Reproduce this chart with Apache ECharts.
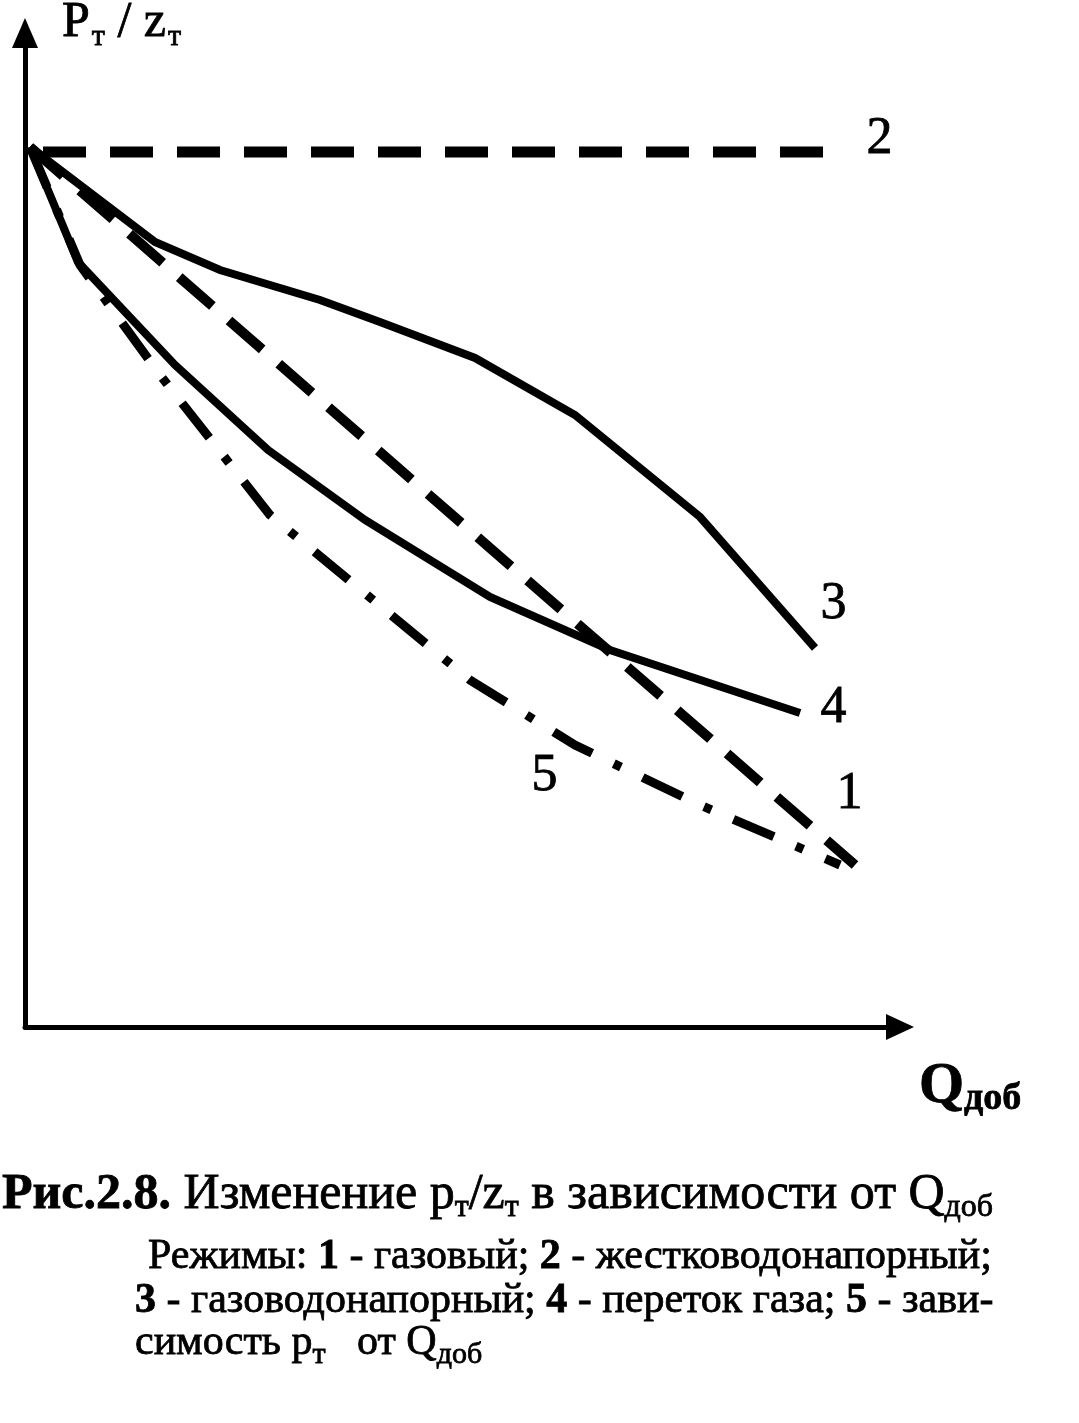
<!DOCTYPE html>
<html><head><meta charset="utf-8">
<script src="https://cdn.jsdelivr.net/npm/echarts@6/dist/echarts.min.js"></script>
<style>html,body{margin:0;padding:0;background:#fff}#c{width:1079px;height:1423px}</style>
</head><body><div id="c"></div>
<script>
// Curve values (arbitrary units)
const curve1 = [[5,880],[465,479],[675,297],[830,162]];            // газовый
const curve2 = [[18,875],[798,875]];                                // жестководонапорный
const curve3 = [[5,880],[130,785],[195,757],[295,727],[355,705],[450,669],[550,612],[675,510],[790,379]]; // газоводонапорный
const curve4 = [[5,880],[53,765],[150,662],[243,577],[340,507],[465,430],[585,377],[775,314]];           // переток газа
const curve5 = [[5,880],[55,762],[135,652],[245,512],[445,347],[550,282],[675,222],[815,162]];           // p_т от Q
const curveNames = ['1','2','3','4','5'];

const FN = 'Liberation Serif';
const chart = echarts.init(document.getElementById('c'), null, {renderer:'canvas'});

function ln(data, width, dash){
  return {type:'line', data:data, symbol:'none', smooth:false, silent:true,
    lineStyle:{color:'#000', width:width, type:dash, cap:'butt', join:'miter'}};
}
function R(o){ return Object.assign({fontFamily:FN, fill:'#000', stroke:'#000', lineWidth:0.8}, o); }
const numStyle = (t)=>({text:t, fontFamily:FN, fontSize:52, fill:'#000', stroke:'#000', lineWidth:0.8});

chart.setOption({
  animation:false,
  backgroundColor:'#fff',
  grid:{left:25, right:179, top:33, bottom:396},
  xAxis:{type:'value', min:0, max:875, splitLine:{show:false}, axisTick:{show:false}, axisLabel:{show:false},
    axisLine:{show:true, onZero:false, symbol:['none','triangle'], symbolSize:[26,28], lineStyle:{color:'#000', width:5}}},
  yAxis:{type:'value', min:0, max:994, splitLine:{show:false}, axisTick:{show:false}, axisLabel:{show:false},
    axisLine:{show:true, onZero:false, symbol:['none','triangle'], symbolSize:[26,30], lineStyle:{color:'#000', width:5}}},
  series:[
    Object.assign(ln(curve2, 11, [43,24]), {name:curveNames[1]}),
    Object.assign(ln(curve1, 10, [44,22]), {name:curveNames[0]}),
    Object.assign(ln(curve5, 9, [44,24,8,24]), {name:curveNames[4]}),
    Object.assign(ln(curve3, 8, 'solid'), {name:curveNames[2]}),
    Object.assign(ln(curve4, 8, 'solid'), {name:curveNames[3]})
  ],
  graphic:[
    {type:'text', left:866, top:113, style:numStyle('2')},
    {type:'text', left:820, top:578, style:numStyle('3')},
    {type:'text', left:820, top:682, style:numStyle('4')},
    {type:'text', left:836, top:768, style:numStyle('1')},
    {type:'text', left:531, top:750, style:numStyle('5')},
    {type:'text', x:62, y:-2, style:{text:'{m|P}{s|т}{m| / z}{s|т}',
      rich:{m:R({fontSize:50, verticalAlign:'top', lineHeight:50}),
            s:R({fontSize:30, padding:[24,0,0,2], verticalAlign:'top', lineHeight:30})}}},
    {type:'text', x:919, y:1058, style:{text:'{m|Q}{s|доб}',
      rich:{m:R({fontSize:58, fontWeight:'bold', verticalAlign:'top', lineHeight:58}),
            s:R({fontSize:38, fontWeight:'bold', padding:[22,0,0,0], verticalAlign:'top', lineHeight:38})}}},
    {type:'text', x:2, y:1170, style:{text:'{b|Рис.2.8.}{m| Изменение p}{s|т}{m|/z}{s|т}{m| в зависимости от Q}{s|доб}',
      rich:{b:R({fontSize:50, fontWeight:'bold', verticalAlign:'top', lineHeight:50}),
            m:R({fontSize:50, verticalAlign:'top', lineHeight:50}),
            s:R({fontSize:32, padding:[22,0,0,0], verticalAlign:'top', lineHeight:32})}}},
    {type:'text', x:148, y:1236, style:{text:'{m|Режимы: }{b|1}{m| - газовый; }{b|2}{m| - жестководонапорный;}',
      rich:{b:R({fontSize:42, fontWeight:'bold', lineHeight:42}), m:R({fontSize:42, lineHeight:42})}}},
    {type:'text', x:135, y:1280, style:{text:'{b|3}{m| - газоводонапорный; }{b|4}{m| - переток газа; }{b|5}{m| - зави-}',
      rich:{b:R({fontSize:42, fontWeight:'bold', lineHeight:42}), m:R({fontSize:42, lineHeight:42})}}},
    {type:'text', x:135, y:1322, style:{text:'{m|симость p}{s|т}{m|   от Q}{s|доб}',
      rich:{m:R({fontSize:42, verticalAlign:'top', lineHeight:42}),
            s:R({fontSize:30, padding:[18,0,0,0], verticalAlign:'top', lineHeight:30})}}}
  ]
});
</script></body></html>
